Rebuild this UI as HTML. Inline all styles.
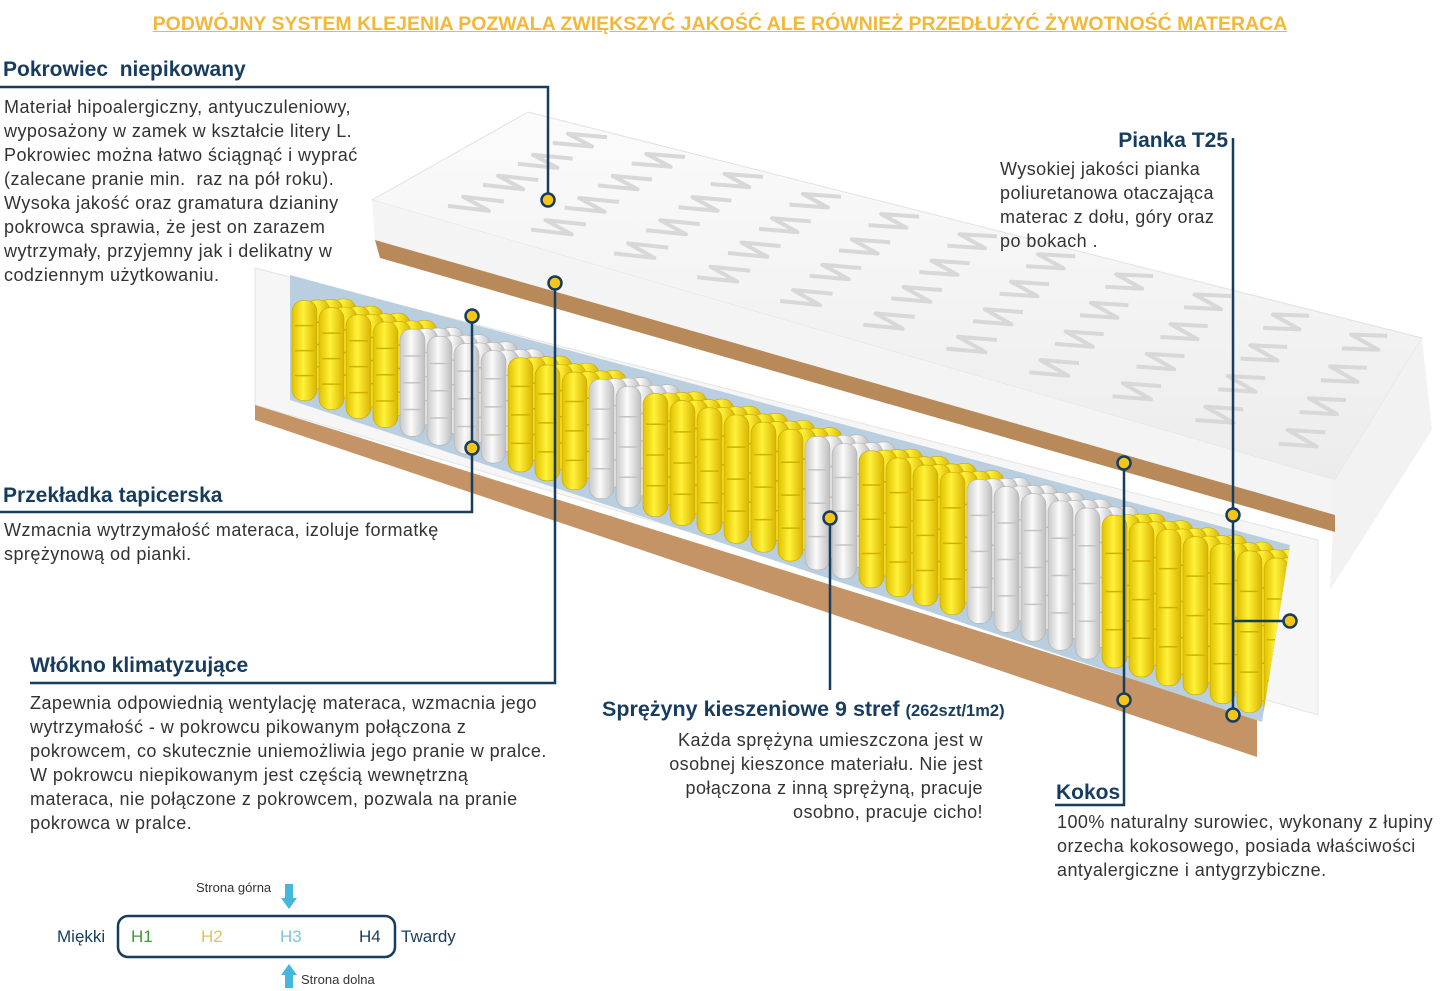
<!DOCTYPE html>
<html><head><meta charset="utf-8">
<style>
html,body{margin:0;padding:0;background:#fff;}
body{width:1440px;height:991px;position:relative;overflow:hidden;font-family:"Liberation Sans","DejaVu Sans",sans-serif;color:#333;}
.t{position:absolute;white-space:nowrap;}
.h{font-weight:bold;color:#173c5e;font-size:21px;}
.p{font-size:18px;letter-spacing:0.45px;line-height:24px;color:#333;}
.title{position:absolute;left:0;width:1440px;top:13px;text-align:center;color:#f0b93a;font-weight:bold;font-size:19.5px;text-decoration:underline;}
svg{position:absolute;left:0;top:0;}
</style></head><body>
<svg id="s" width="1440" height="991" viewBox="0 0 1440 991">
<defs>
<linearGradient id="yl" x1="0" x2="1"><stop offset="0" stop-color="#e0c000"/><stop offset=".45" stop-color="#fff23a"/><stop offset="1" stop-color="#d8b400"/></linearGradient>
<linearGradient id="wh" x1="0" x2="1"><stop offset="0" stop-color="#c8c8c8"/><stop offset=".45" stop-color="#fafafa"/><stop offset="1" stop-color="#bdbdbd"/></linearGradient>
<linearGradient id="tp" x1="0" y1="0" x2="0" y2="1"><stop offset="0" stop-color="#fbfbfb"/><stop offset="1" stop-color="#ececec"/></linearGradient>
<clipPath id="cav"><polygon points="290,275 1290,545 1262,722 290,400"/></clipPath>
</defs>
<polygon points="372,200 528,112 1422,338 1335,480" fill="url(#tp)" stroke="#e2e2e2"/>
<g id="waves" fill="none" stroke="#d8d8d8" stroke-width="4" stroke-linejoin="round"></g>
<polygon points="1335,480 1422,338 1432,430 1330,590" fill="#f2f2f2"/>
<polygon points="372,200 1335,480 1335,515 375,240" fill="#f4f4f4"/>
<polygon points="375,240 1335,515 1335,532 380,258" fill="#b88a5a"/>
<polygon points="255,268 1318,540 1318,715 255,405" fill="#f6f6f6" stroke="#e4e4e4"/>
<polygon points="255,405 1257,718 1257,757 255,420" fill="#c49466"/>
<polygon points="290,275 1290,545 1262,722 290,400" fill="#b9cfe0"/>
<g id="spr" clip-path="url(#cav)"></g>
<g stroke="#173c5e" stroke-width="2.5" fill="none">
<polyline points="0,87 548,87 548,200"/>
<polyline points="0,512 472,512 472,316"/>
<polyline points="30,683 555,683 555,283"/>
<line x1="830" y1="518" x2="830" y2="690"/>
<line x1="1233" y1="138" x2="1233" y2="715"/>
<line x1="1233" y1="621" x2="1290" y2="621"/>
<polyline points="1055,805 1124,805 1124,463"/>
</g>
<g fill="#f5c518" stroke="#173c5e" stroke-width="2.5" id="dots"></g>
<rect x="118" y="916" width="277" height="41" rx="10" fill="none" stroke="#173c5e" stroke-width="2.5"/>
<polygon points="285,884 293,884 293,898 297,898 289,909 281,898 285,898" fill="#45b6dc"/>
<polygon points="285,988 293,988 293,975 297,975 289,964 281,975 285,975" fill="#45b6dc"/>
</svg>
<div class="title">PODWÓJNY SYSTEM KLEJENIA POZWALA ZWIĘKSZYĆ JAKOŚĆ ALE RÓWNIEŻ PRZEDŁUŻYĆ ŻYWOTNOŚĆ MATERACA</div>
<div class="t h" style="left:3px;top:58px">Pokrowiec&nbsp; niepikowany</div>
<div class="t p" style="left:4px;top:95px">Materiał hipoalergiczny, antyuczuleniowy,<br>wyposażony w zamek w kształcie litery L.<br>Pokrowiec można łatwo ściągnąć i wyprać<br>(zalecane pranie min.&nbsp; raz na pół roku).<br>Wysoka jakość oraz gramatura dzianiny<br>pokrowca sprawia, że jest on zarazem<br>wytrzymały, przyjemny jak i delikatny w<br>codziennym użytkowaniu.</div>
<div class="t h" style="left:3px;top:484px">Przekładka tapicerska</div>
<div class="t p" style="left:4px;top:518px">Wzmacnia wytrzymałość materaca, izoluje formatkę<br>sprężynową od pianki.</div>
<div class="t h" style="left:30px;top:654px">Włókno klimatyzujące</div>
<div class="t p" style="left:30px;top:691px">Zapewnia odpowiednią wentylację materaca, wzmacnia jego<br>wytrzymałość - w pokrowcu pikowanym połączona z<br>pokrowcem, co skutecznie uniemożliwia jego pranie w pralce.<br>W pokrowcu niepikowanym jest częścią wewnętrzną<br>materaca, nie połączone z pokrowcem, pozwala na pranie<br>pokrowca w pralce.</div>
<div class="t h" style="left:602px;top:697px;font-size:21.5px">Sprężyny kieszeniowe 9 stref <span style="font-size:16.5px">(262szt/1m2)</span></div>
<div class="t p" style="right:457px;top:728px;text-align:right">Każda sprężyna umieszczona jest w<br>osobnej kieszonce materiału. Nie jest<br>połączona z inną sprężyną, pracuje<br>osobno, pracuje cicho!</div>
<div class="t h" style="right:212px;top:129px">Pianka T25</div>
<div class="t p" style="left:1000px;top:157px">Wysokiej jakości pianka<br>poliuretanowa otaczająca<br>materac z dołu, góry oraz<br>po bokach .</div>
<div class="t h" style="left:1056px;top:781px">Kokos</div>
<div class="t p" style="left:1057px;top:810px">100% naturalny surowiec, wykonany z łupiny<br>orzecha kokosowego, posiada właściwości<br>antyalergiczne i antygrzybiczne.</div>
<div class="t" style="left:196px;top:880px;font-size:13px;color:#333">Strona górna</div>
<div class="t" style="left:301px;top:972px;font-size:13px;color:#333">Strona dolna</div>
<div class="t" style="left:57px;top:927px;font-size:17px;color:#173c5e">Miękki</div>
<div class="t" style="left:401px;top:927px;font-size:17px;color:#173c5e">Twardy</div>
<div class="t" style="left:131px;top:927px;font-size:17px;color:#3a9a3a">H1</div>
<div class="t" style="left:201px;top:927px;font-size:17px;color:#e0c060">H2</div>
<div class="t" style="left:280px;top:927px;font-size:17px;color:#7ec6dc">H3</div>
<div class="t" style="left:359px;top:927px;font-size:17px;color:#173c5e">H4</div>
<script>
(function(){
var NS="http://www.w3.org/2000/svg";
function el(p,n,a){var e=document.createElementNS(NS,n);for(var k in a)e.setAttribute(k,a[k]);p.appendChild(e);return e;}
var A=[372,200],B=[528,112],C=[1422,338],D=[1335,480];
function pt(u,v){var x=A[0]+(D[0]-A[0])*u+(B[0]-A[0])*v+(C[0]-B[0]-D[0]+A[0])*u*v;var y=A[1]+(D[1]-A[1])*u+(B[1]-A[1])*v+(C[1]-B[1]-D[1]+A[1])*u*v;return x.toFixed(1)+","+y.toFixed(1);}
var w=document.getElementById("waves");
for(var r=0;r<4;r++){for(var c=0;c<11;c++){
 var fu=0.06+c*0.087, fv=0.12+r*0.23;
 var pts=[pt(fu,fv),pt(fu+0.035,fv+0.05),pt(fu,fv+0.1),pt(fu+0.035,fv+0.15)];
 el(w,"polyline",{points:pts.join(" ")});
}}
var g=document.getElementById("spr");
var zones=[[290,390,1],[390,490,0],[490,575,1],[575,630,0],[630,785,1],[785,850,0],[850,950,1],[950,1095,0],[1095,1290,1]];
for(var row=3;row>=0;row--){
 for(var x=292;x<1280;x+=27){
  var xx=x+row*13, z=1;
  for(var i=0;i<zones.length;i++)if(x>=zones[i][0]&&x<zones[i][1])z=zones[i][2];
  var tp=282+(xx-290)*0.265+row*2 + (3-row)*6;
  var bt=400+(xx-290)*0.33-row*16;
  var h=Math.max(20,bt-tp);
  el(g,"rect",{x:xx,y:tp,width:25,height:h,rx:11,fill:z?"url(#yl)":"url(#wh)",stroke:z?"#c9a500":"#b0b0b0","stroke-width":0.6});
  for(var k=1;k<4;k++)el(g,"line",{x1:xx+3,x2:xx+22,y1:tp+h*k/4,y2:tp+h*k/4,stroke:z?"#d2b000":"#c4c4c4","stroke-width":1.5});
 }
}
var d=document.getElementById("dots");
[[548,200],[555,283],[472,316],[472,448],[830,518],[1233,515],[1233,715],[1290,621],[1124,463],[1124,700]].forEach(function(p){el(d,"circle",{cx:p[0],cy:p[1],r:6.5});});
})();
</script>
</body></html>
